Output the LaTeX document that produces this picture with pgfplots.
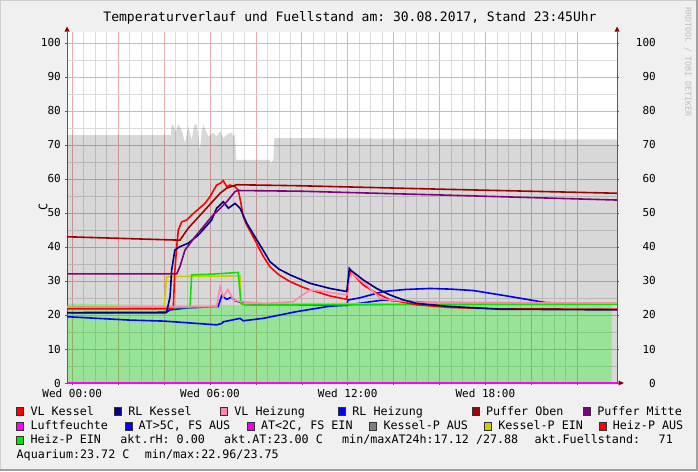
\documentclass[border=0pt]{standalone}
\usepackage{pgfplots}
\pgfplotsset{compat=1.18}
\usepackage{fontspec}
\setmonofont{DejaVu Sans Mono}

\definecolor{canvas}{RGB}{240,240,240}
\definecolor{gridmaj}{RGB}{238,170,170}
\definecolor{gridmin}{RGB}{218,218,218}
\definecolor{vlkessel}{RGB}{255,0,0}
\definecolor{rlkessel}{RGB}{0,0,128}
\definecolor{vlheiz}{RGB}{255,136,170}
\definecolor{rlheiz}{RGB}{0,0,255}
\definecolor{pufoben}{RGB}{160,0,0}
\definecolor{pufmitte}{RGB}{128,0,128}
\definecolor{luft}{RGB}{255,0,255}
\definecolor{atlow}{RGB}{238,0,238}
\definecolor{kpaus}{RGB}{128,128,128}
\definecolor{kpein}{RGB}{204,204,0}
\definecolor{hpein}{RGB}{0,230,0}
\definecolor{arrowred}{RGB}{140,0,0}
\definecolor{axisgray}{RGB}{90,90,90}

\newcommand\lf{\ttfamily\fontsize{11.7}{14}\selectfont}
% legend entry: colour, x of box, baseline y, text
\newcommand\legitem[4]{%
  \filldraw[fill=#1, draw=black!80, line width=0.4pt] (#2pt,-#3pt) rectangle ++(7pt,8pt);
  \node[anchor=base west, inner sep=0pt, font=\lf] at ({#2pt+13.8pt},-#3pt) {#4};}

\begin{document}
\begin{tikzpicture}
\path[use as bounding box] (0pt,0pt) rectangle (698pt,-471pt);
\fill[canvas] (0pt,0pt) rectangle (698pt,-471pt);
\draw[line width=1pt, color={rgb,255:red,207;green,207;blue,207}] (0.5pt,-471pt) -- (0.5pt,-0.5pt) -- (698pt,-0.5pt);
\draw[line width=2pt, color={rgb,255:red,160;green,160;blue,160}] (0pt,-470pt) -- (697pt,-470pt) -- (697pt,0pt);

\begin{axis}[
    name=main,
    at={(67pt,-383pt)}, anchor=south west,
    scale only axis, width=550pt, height=351.3pt,
    xmin=-0.231, xmax=23.735, ymin=0, ymax=103.3,
    clip=false,
    axis background/.style={fill=white},
    axis x line*=bottom, axis y line*=left,
    axis line style={draw=axisgray, line width=0.8pt},
    xtick={0,2,...,22},
    xticklabels={Wed 00:00,,,Wed 06:00,,,Wed 12:00,,,Wed 18:00,,},
    minor x tick num=3,
    ytick={0,10,...,100},
    minor y tick num=1,
    grid=both,
    major grid style={draw=gridmaj, line width=0.6pt},
    minor grid style={draw=gridmin, line width=0.6pt},
    tick align=outside, major tick length=2pt, minor tick length=0pt,
    tick style={draw=axisgray, line width=0.5pt},
    ticklabel style={font=\ttfamily\fontsize{11}{11}\selectfont},
    /pgf/number format/assume math mode=true,
    yticklabel style={anchor=east, inner sep=0pt, xshift=-4pt},
    xticklabel style={anchor=north, inner sep=0pt, yshift=-4pt},
  ]
  % Fuellstand area
  \addplot[draw=none, fill=black, fill opacity=0.153] coordinates {
    (-0.231,72.9) (4.30,72.9) (4.33,76.2) (4.42,75.5) (4.50,73.8) (4.62,76.0)
    (4.72,75.0) (4.80,73.5) (4.91,70.6) (5.05,75.5) (5.13,73.5) (5.20,71.5)
    (5.32,76.0) (5.42,76.0) (5.50,72.0) (5.56,68.5) (5.64,74.0) (5.71,76.0)
    (5.80,74.5) (5.86,73.5) (5.93,72.5) (6.14,73.5) (6.29,72.5) (6.44,74.0)
    (6.58,72.0) (6.73,73.0) (6.87,73.5) (6.95,73.5) (7.02,72.5) (7.09,73.0)
    (7.14,66.0) (7.16,65.6) (8.61,65.6) (8.66,64.8) (8.76,65.6) (8.80,72.0)
    (9.92,72.0) (16.0,71.8) (23.735,71.6)
  } \closedcycle;
  % Aquarium area
  \addplot[draw=none, fill={rgb,255:red,0;green,255;blue,0}, fill opacity=0.296] coordinates {
    (-0.231,23.3) (4.0,23.0) (8.0,22.9) (12.0,23.0) (16.0,23.2) (20.0,23.2) (23.50,23.2) (23.50,0)
  } \closedcycle;
  % AT line (blue)
  \addplot[rlheiz, line width=1.6pt] coordinates {
    (-0.231,19.5) (2.5,18.5) (4.0,18.2) (6.29,17.1) (6.51,17.5) (6.58,18.0)
    (7.31,19.0) (7.45,18.3) (8.31,19.0) (9.78,21.0) (11.23,22.6) (11.96,22.9)
    (12.68,23.6) (13.55,24.4) (15.72,23.6) (18.64,23.3) (20.67,23.3) (23.735,23.2)
  };
  % RL Heizung
  \addplot[rlheiz, line width=1.6pt] coordinates {
    (-0.231,20.6) (4.04,20.6) (4.26,21.5) (5.05,22.1) (6.36,22.5) (6.51,25.7)
    (6.73,24.6) (6.92,25.2) (7.09,24.2) (7.53,23.4) (8.40,22.9) (9.05,23.1)
    (11.96,22.8) (12.01,24.4) (12.5,25.0) (13.55,26.9) (14.5,27.5) (15.59,27.8)
    (16.5,27.6) (17.46,27.2) (18.93,25.6) (20.67,23.6) (23.735,23.3)
  };
  % Kessel-P EIN
  \addplot[kpein, line width=1.6pt] coordinates {
    (-0.231,22.4) (4.00,22.4) (4.11,31.3) (7.31,31.5) (7.35,23.3) (23.735,23.4)
  };
  % Heiz-P EIN
  \addplot[hpein, line width=1.6pt] coordinates {
    (-0.231,22.3) (5.13,22.2) (5.20,31.8) (6.07,32.0) (7.23,32.5) (7.35,23.4)
    (7.53,22.9) (12.0,23.0) (23.735,23.2)
  };
  % VL Kessel
  \addplot[vlkessel, line width=1.6pt] coordinates {
    (-0.231,21.8) (4.40,21.8) (4.47,33.2) (4.55,40.0) (4.62,45.0) (4.77,47.4)
    (4.98,47.9) (5.20,49.4) (5.78,52.8) (6.00,54.8) (6.29,58.2) (6.44,58.7)
    (6.58,59.5) (6.73,57.7) (6.87,58.2) (7.09,57.7) (7.23,56.8) (7.35,52.8)
    (7.45,48.9) (7.60,46.5) (7.96,42.0) (8.30,37.5) (8.61,34.2) (9.0,31.8)
    (9.49,29.8) (10.0,28.3) (10.36,27.4) (11.23,25.6) (11.96,24.6) (12.05,30.5)
    (12.13,32.7) (12.68,28.8) (13.26,26.4) (13.84,24.5) (15.01,23.0) (16.5,22.2)
    (18.64,21.8) (23.735,21.7)
  };
  % VL Heizung
  \addplot[vlheiz, line width=1.6pt] coordinates {
    (-0.231,22.3) (6.29,22.4) (6.44,28.3) (6.58,25.4) (6.78,27.5) (7.02,24.4)
    (7.38,23.9) (8.40,23.4) (9.62,23.9) (10.36,27.4) (10.92,26.9) (11.96,25.9)
    (12.05,30.0) (12.17,32.2) (12.83,28.8) (13.41,24.9) (13.84,24.4) (15.0,23.8)
    (23.735,23.5)
  };
  % RL Kessel
  \addplot[rlkessel, line width=1.6pt] coordinates {
    (-0.231,20.7) (4.11,20.8) (4.26,25.4) (4.33,33.2) (4.47,39.1) (4.69,40.1)
    (5.05,41.1) (5.49,43.5) (6.07,47.9) (6.29,51.4) (6.58,53.3) (6.80,51.4)
    (7.09,52.8) (7.31,51.4) (7.60,47.0) (7.96,43.0) (8.40,38.1) (8.61,35.7)
    (9.0,33.5) (9.49,31.8) (10.36,29.3) (11.23,27.8) (11.96,26.9) (12.03,31.0)
    (12.07,33.7) (12.13,33.2) (12.68,30.3) (13.26,27.8) (13.84,25.9) (14.4,24.5)
    (15.01,23.4) (16.46,22.5) (18.64,21.7) (23.735,21.5)
  };
  % Puffer Oben
  \addplot[pufoben, line width=1.6pt] coordinates {
    (-0.231,43.0) (4.69,42.0) (5.05,45.5) (5.78,50.9) (6.44,55.8) (6.73,57.3)
    (7.16,58.3) (9.92,58.0) (16.0,57.0) (23.735,55.8)
  };
  % Puffer Mitte
  \addplot[pufmitte, line width=1.6pt] coordinates {
    (-0.231,32.1) (4.55,32.1) (4.69,34.2) (4.91,39.1) (5.35,43.0) (6.07,48.9)
    (6.73,53.3) (7.09,56.3) (7.23,56.6) (9.92,56.4) (16.0,55.3) (23.735,53.8)
  };
  % Luftfeuchte
  \addplot[luft, line width=1.8pt] coordinates {(-0.231,0) (23.735,0)};
\end{axis}

\begin{axis}[
    at={(67pt,-383pt)}, anchor=south west,
    scale only axis, width=550pt, height=351.3pt,
    xmin=-0.231, xmax=23.735, ymin=0, ymax=103.3,
    axis x line=none, axis y line*=right,
    axis line style={draw=axisgray, line width=0.8pt},
    ytick={0,10,...,100},
    tick align=outside, major tick length=2pt,
    tick style={draw=axisgray, line width=0.5pt},
    ticklabel style={font=\ttfamily\fontsize{11}{11}\selectfont},
    /pgf/number format/assume math mode=true,
    yticklabel style={anchor=east, inner sep=0pt, xshift=37pt},
  ]
  \addplot[draw=none] coordinates {(0,0)};
\end{axis}

% axis arrows
\fill[arrowred] (67pt,-26.5pt) -- (64.5pt,-31.5pt) -- (69.5pt,-31.5pt) -- cycle;
\fill[arrowred] (617pt,-26.5pt) -- (614.5pt,-31.5pt) -- (619.5pt,-31.5pt) -- cycle;
\fill[arrowred] (624pt,-383pt) -- (618.5pt,-380.5pt) -- (618.5pt,-385.5pt) -- cycle;

% title and labels
\node[font=\ttfamily\fontsize{13}{13}\selectfont, anchor=base, inner sep=0pt] at (350pt,-21.5pt)
  {Temperaturverlauf und Fuellstand am: 30.08.2017, Stand 23:45Uhr};
\node[font=\lf, rotate=90, inner sep=0pt] at (43pt,-207pt) {C};
\node[font=\ttfamily\fontsize{8.3}{8.3}\selectfont, text={rgb,255:red,190;green,190;blue,190}, rotate=-90, anchor=south, inner sep=0pt] at (684.5pt,-62pt) {RRDTOOL / TOBI OETIKER};

% legend
\legitem{vlkessel}{16.5}{415.5}{VL Kessel}
\legitem{rlkessel}{114.4}{415.5}{RL Kessel}
\legitem{vlheiz}{220.4}{415.5}{VL Heizung}
\legitem{rlheiz}{338.4}{415.5}{RL Heizung}
\legitem{pufoben}{472}{415.5}{Puffer Oben}
\legitem{pufmitte}{583.3}{415.5}{Puffer Mitte}
\legitem{luft}{16.5}{429.7}{Luftfeuchte}
\legitem{rlheiz}{124.7}{429.7}{AT>5C, FS AUS}
\legitem{atlow}{247}{429.7}{AT<2C, FS EIN}
\legitem{kpaus}{369.5}{429.7}{Kessel-P AUS}
\legitem{kpein}{484.4}{429.7}{Kessel-P EIN}
\legitem{vlkessel}{598.8}{429.7}{Heiz-P AUS}
\legitem{hpein}{16.5}{443.9}{Heiz-P EIN}
\node[anchor=base west, inner sep=0pt, font=\lf] at (120.2pt,-443.9pt) {akt.rH: 0.00};
\node[anchor=base west, inner sep=0pt, font=\lf] at (224pt,-443.9pt) {akt.AT:23.00 C};
\node[anchor=base west, inner sep=0pt, font=\lf] at (342pt,-443.9pt) {min/maxAT24h:17.12 /27.88};
\node[anchor=base west, inner sep=0pt, font=\lf] at (534.3pt,-443.9pt) {akt.Fuellstand:};
\node[anchor=base east, inner sep=0pt, font=\lf] at (673pt,-443.9pt) {71};
\node[anchor=base west, inner sep=0pt, font=\lf] at (16.5pt,-458.1pt) {Aquarium:23.72 C};
\node[anchor=base west, inner sep=0pt, font=\lf] at (144.7pt,-458.1pt) {min/max:22.96/23.75};
\end{tikzpicture}
\end{document}
